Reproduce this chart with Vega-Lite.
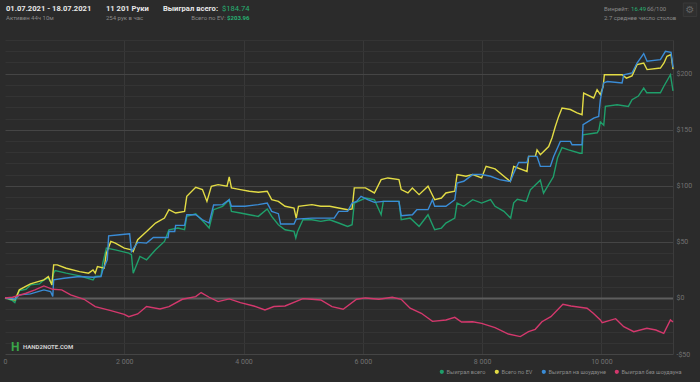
{
  "$schema": "https://vega.github.io/schema/vega-lite/v6.json",
  "width": 668,
  "height": 314,
  "autosize": "none",
  "padding": {"left": 5, "top": 40, "right": 27, "bottom": 28},
  "background": "#2b2b2b",
  "config": {
    "view": {"stroke": null},
    "font": "Roboto",
    "text": {"font": "Roboto"}
  },
  "resolve": {"axis": {"x": "independent", "y": "independent"}},
  "layer": [
    {
      "data": {"values": [
        {"s":"Выиграл всего","h":0,"v":0},{"s":"Выиграл всего","h":127,"v":-2.4},{"s":"Выиграл всего","h":165,"v":-4.2},{"s":"Выиграл всего","h":240,"v":6.6},{"s":"Выиграл всего","h":352,"v":7.7},{"s":"Выиграл всего","h":427,"v":11.6},{"s":"Выиграл всего","h":577,"v":12.5},{"s":"Выиграл всего","h":652,"v":16.1},{"s":"Выиграл всего","h":727,"v":17.6},{"s":"Выиграл всего","h":786,"v":12.5},{"s":"Выиграл всего","h":816,"v":22.1},{"s":"Выиграл всего","h":839,"v":24.4},{"s":"Выиграл всего","h":1026,"v":22.1},{"s":"Выиграл всего","h":1251,"v":19.7},{"s":"Выиграл всего","h":1476,"v":16.1},{"s":"Выиграл всего","h":1513,"v":19.1},{"s":"Выиграл всего","h":1610,"v":19.7},{"s":"Выиграл всего","h":1640,"v":31.0},{"s":"Выиграл всего","h":1700,"v":44.4},{"s":"Выиграл всего","h":1850,"v":42.9},{"s":"Выиграл всего","h":2075,"v":39.9},{"s":"Выиграл всего","h":2120,"v":38.5},{"s":"Выиграл всего","h":2150,"v":22.1},{"s":"Выиграл всего","h":2262,"v":37.0},{"s":"Выиграл всего","h":2374,"v":34.0},{"s":"Выиграл всего","h":2524,"v":42.9},{"s":"Выиграл всего","h":2674,"v":50.4},{"s":"Выиграл всего","h":2749,"v":60.8},{"s":"Выиграл всего","h":2899,"v":62.3},{"s":"Выиграл всего","h":3011,"v":60.8},{"s":"Выиграл всего","h":3048,"v":72.7},{"s":"Выиграл всего","h":3198,"v":75.1},{"s":"Выиграл всего","h":3348,"v":66.8},{"s":"Выиграл всего","h":3423,"v":62.3},{"s":"Выиграл всего","h":3498,"v":78.7},{"s":"Выиграл всего","h":3648,"v":81.7},{"s":"Выиграл всего","h":3760,"v":87.6},{"s":"Выиграл всего","h":3797,"v":77.2},{"s":"Выиграл всего","h":3947,"v":75.7},{"s":"Выиграл всего","h":4097,"v":74.2},{"s":"Выиграл всего","h":4247,"v":72.7},{"s":"Выиграл всего","h":4397,"v":79.3},{"s":"Выиграл всего","h":4472,"v":72.7},{"s":"Выиграл всего","h":4584,"v":65.3},{"s":"Выиграл всего","h":4696,"v":60.8},{"s":"Выиграл всего","h":4846,"v":59.3},{"s":"Выиграл всего","h":4876,"v":53.4},{"s":"Выиграл всего","h":4906,"v":59.3},{"s":"Выиграл всего","h":4996,"v":69.7},{"s":"Выиграл всего","h":5146,"v":69.7},{"s":"Выиграл всего","h":5295,"v":68.3},{"s":"Выиграл всего","h":5445,"v":69.7},{"s":"Выиграл всего","h":5595,"v":66.8},{"s":"Выиграл всего","h":5745,"v":63.8},{"s":"Выиграл всего","h":5820,"v":65.3},{"s":"Выиграл всего","h":5857,"v":84.6},{"s":"Выиграл всего","h":6044,"v":89.1},{"s":"Выиграл всего","h":6194,"v":87.6},{"s":"Выиграл всего","h":6307,"v":74.2},{"s":"Выиграл всего","h":6344,"v":86.1},{"s":"Выиграл всего","h":6494,"v":86.1},{"s":"Выиграл всего","h":6606,"v":86.1},{"s":"Выиграл всего","h":6644,"v":69.7},{"s":"Выиграл всего","h":6793,"v":71.2},{"s":"Выиграл всего","h":6943,"v":63.8},{"s":"Выиграл всего","h":7093,"v":74.2},{"s":"Выиграл всего","h":7205,"v":60.8},{"s":"Выиграл всего","h":7318,"v":62.3},{"s":"Выиграл всего","h":7393,"v":66.8},{"s":"Выиграл всего","h":7542,"v":71.2},{"s":"Выиграл всего","h":7580,"v":84.6},{"s":"Выиграл всего","h":7692,"v":81.7},{"s":"Выиграл всего","h":7842,"v":87.6},{"s":"Выиграл всего","h":7992,"v":84.6},{"s":"Выиграл всего","h":8142,"v":87.6},{"s":"Выиграл всего","h":8217,"v":81.7},{"s":"Выиграл всего","h":8366,"v":77.2},{"s":"Выиграл всего","h":8479,"v":71.2},{"s":"Выиграл всего","h":8530,"v":84.8},{"s":"Выиграл всего","h":8591,"v":88},{"s":"Выиграл всего","h":8741,"v":86},{"s":"Выиграл всего","h":8809,"v":96.4},{"s":"Выиграл всего","h":8976,"v":105},{"s":"Выиграл всего","h":9030,"v":93.5},{"s":"Выиграл всего","h":9195,"v":108},{"s":"Выиграл всего","h":9265,"v":125},{"s":"Выиграл всего","h":9340,"v":134},{"s":"Выиграл всего","h":9450,"v":132},{"s":"Выиграл всего","h":9640,"v":129},{"s":"Выиграл всего","h":9676,"v":129},{"s":"Выиграл всего","h":9690,"v":145.5},{"s":"Выиграл всего","h":9930,"v":147.3},{"s":"Выиграл всего","h":9960,"v":150},{"s":"Выиграл всего","h":9983,"v":157},{"s":"Выиграл всего","h":10040,"v":154},{"s":"Выиграл всего","h":10067,"v":170.8},{"s":"Выиграл всего","h":10263,"v":172.3},{"s":"Выиграл всего","h":10453,"v":170.8},{"s":"Выиграл всего","h":10514,"v":176.8},{"s":"Выиграл всего","h":10620,"v":180},{"s":"Выиграл всего","h":10710,"v":187.2},{"s":"Выиграл всего","h":10760,"v":183},{"s":"Выиграл всего","h":10990,"v":183},{"s":"Выиграл всего","h":11050,"v":189},{"s":"Выиграл всего","h":11158,"v":199},{"s":"Выиграл всего","h":11201,"v":184.7},
        {"s":"Всего по EV","h":0,"v":0},{"s":"Всего по EV","h":165,"v":-1.8},{"s":"Всего по EV","h":240,"v":7.2},{"s":"Всего по EV","h":427,"v":12.5},{"s":"Всего по EV","h":652,"v":16.1},{"s":"Всего по EV","h":727,"v":19.1},{"s":"Всего по EV","h":786,"v":11.6},{"s":"Всего по EV","h":816,"v":29.5},{"s":"Всего по EV","h":876,"v":29.5},{"s":"Всего по EV","h":1026,"v":26.5},{"s":"Всего по EV","h":1251,"v":23.5},{"s":"Всего по EV","h":1401,"v":22.1},{"s":"Всего по EV","h":1476,"v":25.0},{"s":"Всего по EV","h":1513,"v":22.1},{"s":"Всего по EV","h":1550,"v":28.0},{"s":"Всего по EV","h":1663,"v":26.5},{"s":"Всего по EV","h":1700,"v":39.9},{"s":"Всего по EV","h":1775,"v":50.4},{"s":"Всего по EV","h":1850,"v":48.9},{"s":"Всего по EV","h":2000,"v":44.4},{"s":"Всего по EV","h":2120,"v":42.9},{"s":"Всего по EV","h":2150,"v":41.4},{"s":"Всего по EV","h":2225,"v":51.9},{"s":"Всего по EV","h":2374,"v":59.3},{"s":"Всего по EV","h":2524,"v":66.8},{"s":"Всего по EV","h":2674,"v":71.2},{"s":"Всего по EV","h":2749,"v":78.7},{"s":"Всего по EV","h":2861,"v":75.7},{"s":"Всего по EV","h":3011,"v":77.2},{"s":"Всего по EV","h":3048,"v":90.6},{"s":"Всего по EV","h":3198,"v":98.7},{"s":"Всего по EV","h":3311,"v":96.6},{"s":"Всего по EV","h":3386,"v":86.1},{"s":"Всего по EV","h":3460,"v":99.6},{"s":"Всего по EV","h":3573,"v":101.0},{"s":"Всего по EV","h":3723,"v":99.6},{"s":"Всего по EV","h":3760,"v":107.9},{"s":"Всего по EV","h":3797,"v":98.1},{"s":"Всего по EV","h":3947,"v":96.6},{"s":"Всего по EV","h":4097,"v":95.1},{"s":"Всего по EV","h":4247,"v":94.2},{"s":"Всего по EV","h":4397,"v":95.1},{"s":"Всего по EV","h":4472,"v":87.6},{"s":"Всего по EV","h":4584,"v":86.1},{"s":"Всего по EV","h":4696,"v":81.7},{"s":"Всего по EV","h":4846,"v":80.2},{"s":"Всего по EV","h":4883,"v":71.2},{"s":"Всего по EV","h":4921,"v":81.7},{"s":"Всего по EV","h":5146,"v":83.2},{"s":"Всего по EV","h":5295,"v":81.7},{"s":"Всего по EV","h":5445,"v":81.7},{"s":"Всего по EV","h":5595,"v":80.2},{"s":"Всего по EV","h":5745,"v":78.7},{"s":"Всего по EV","h":5820,"v":79.3},{"s":"Всего по EV","h":5857,"v":98.1},{"s":"Всего по EV","h":6044,"v":98.1},{"s":"Всего по EV","h":6194,"v":93.6},{"s":"Всего по EV","h":6307,"v":105.5},{"s":"Всего по EV","h":6419,"v":107.0},{"s":"Всего по EV","h":6606,"v":105.5},{"s":"Всего по EV","h":6644,"v":96.6},{"s":"Всего по EV","h":6756,"v":93.6},{"s":"Всего по EV","h":6831,"v":98.1},{"s":"Всего по EV","h":6943,"v":92.1},{"s":"Всего по EV","h":7093,"v":99.6},{"s":"Всего по EV","h":7205,"v":87.6},{"s":"Всего по EV","h":7318,"v":89.1},{"s":"Всего по EV","h":7393,"v":93.6},{"s":"Всего по EV","h":7542,"v":95.1},{"s":"Всего по EV","h":7580,"v":110.0},{"s":"Всего по EV","h":7730,"v":108.5},{"s":"Всего по EV","h":7842,"v":110.0},{"s":"Всего по EV","h":7992,"v":107.0},{"s":"Всего по EV","h":8067,"v":117.4},{"s":"Всего по EV","h":8217,"v":115.1},{"s":"Всего по EV","h":8366,"v":108.5},{"s":"Всего по EV","h":8473,"v":103.8},{"s":"Всего по EV","h":8530,"v":117.3},{"s":"Всего по EV","h":8753,"v":112.8},{"s":"Всего по EV","h":8780,"v":126.2},{"s":"Всего по EV","h":8893,"v":126.2},{"s":"Всего по EV","h":8921,"v":132},{"s":"Всего по EV","h":8977,"v":127.7},{"s":"Всего по EV","h":9116,"v":135},{"s":"Всего по EV","h":9172,"v":142.6},{"s":"Всего по EV","h":9228,"v":152.9},{"s":"Всего по EV","h":9284,"v":161.9},{"s":"Всего по EV","h":9340,"v":169.4},{"s":"Всего по EV","h":9480,"v":168},{"s":"Всего по EV","h":9592,"v":165},{"s":"Всего по EV","h":9676,"v":163.4},{"s":"Всего по EV","h":9703,"v":182.7},{"s":"Всего по EV","h":9871,"v":178.3},{"s":"Всего по EV","h":9928,"v":185.7},{"s":"Всего по EV","h":9983,"v":181.2},{"s":"Всего по EV","h":10030,"v":188.6},{"s":"Всего по EV","h":10050,"v":199},{"s":"Всего по EV","h":10347,"v":199},{"s":"Всего по EV","h":10420,"v":196},{"s":"Всего по EV","h":10514,"v":198},{"s":"Всего по EV","h":10598,"v":208},{"s":"Всего по EV","h":10710,"v":209.5},{"s":"Всего по EV","h":10766,"v":203.6},{"s":"Всего по EV","h":10990,"v":205},{"s":"Всего по EV","h":11050,"v":209.5},{"s":"Всего по EV","h":11100,"v":215.5},{"s":"Всего по EV","h":11168,"v":217},{"s":"Всего по EV","h":11201,"v":204},
        {"s":"Выиграл на шоудауне","h":0,"v":0},{"s":"Выиграл на шоудауне","h":165,"v":-1.2},{"s":"Выиграл на шоудауне","h":240,"v":2.7},{"s":"Выиграл на шоудауне","h":427,"v":3.6},{"s":"Выиграл на шоудауне","h":652,"v":7.2},{"s":"Выиграл на шоудауне","h":764,"v":5.7},{"s":"Выиграл на шоудауне","h":801,"v":1.2},{"s":"Выиграл на шоудауне","h":816,"v":16.1},{"s":"Выиграл на шоудауне","h":989,"v":17.6},{"s":"Выиграл на шоудауне","h":1251,"v":19.1},{"s":"Выиграл на шоудауне","h":1476,"v":18.5},{"s":"Выиграл на шоудауне","h":1610,"v":19.1},{"s":"Выиграл на шоудауне","h":1640,"v":25.0},{"s":"Выиграл на шоудауне","h":1715,"v":34.0},{"s":"Выиграл на шоудауне","h":1738,"v":55.4},{"s":"Выиграл на шоудауне","h":1925,"v":56.3},{"s":"Выиграл на шоудауне","h":2090,"v":57.2},{"s":"Выиграл на шоудауне","h":2120,"v":41.4},{"s":"Выиграл на шоудауне","h":2225,"v":49.5},{"s":"Выиграл на шоудауне","h":2374,"v":48.9},{"s":"Выиграл на шоудауне","h":2487,"v":53.9},{"s":"Выиграл на шоудауне","h":2734,"v":53.9},{"s":"Выиграл на шоудауне","h":2749,"v":59.3},{"s":"Выиграл на шоудауне","h":2846,"v":59.3},{"s":"Выиграл на шоудауне","h":2861,"v":64.7},{"s":"Выиграл на шоудауне","h":3011,"v":64.7},{"s":"Выиграл на шоудауне","h":3048,"v":74.2},{"s":"Выиграл на шоудауне","h":3198,"v":74.2},{"s":"Выиграл на шоудауне","h":3311,"v":69.7},{"s":"Выиграл на шоудауне","h":3423,"v":66.8},{"s":"Выиграл на шоудауне","h":3498,"v":82.9},{"s":"Выиграл на шоудауне","h":3648,"v":83.2},{"s":"Выиграл на шоудауне","h":3760,"v":87.6},{"s":"Выиграл на шоудауне","h":3797,"v":81.7},{"s":"Выиграл на шоудауне","h":4022,"v":81.7},{"s":"Выиграл на шоудауне","h":4247,"v":83.2},{"s":"Выиграл на шоудауне","h":4397,"v":84.6},{"s":"Выиграл на шоудауне","h":4472,"v":77.2},{"s":"Выиграл на шоудауне","h":4584,"v":75.1},{"s":"Выиграл на шоудауне","h":4621,"v":65.9},{"s":"Выиграл на шоудауне","h":4846,"v":65.9},{"s":"Выиграл на шоудауне","h":4883,"v":70.3},{"s":"Выиграл на шоудауне","h":5146,"v":71.2},{"s":"Выиграл на шоудауне","h":5520,"v":71.2},{"s":"Выиграл на шоудауне","h":5595,"v":77.2},{"s":"Выиграл на шоудауне","h":5745,"v":77.2},{"s":"Выиграл на шоудауне","h":5820,"v":84.6},{"s":"Выиграл на шоудауне","h":5895,"v":86.1},{"s":"Выиграл на шоудауне","h":5970,"v":90.6},{"s":"Выиграл на шоудауне","h":6082,"v":87.6},{"s":"Выиграл на шоудауне","h":6194,"v":85.2},{"s":"Выиграл на шоудауне","h":6344,"v":86.1},{"s":"Выиграл на шоудауне","h":6606,"v":86.1},{"s":"Выиграл на шоудауне","h":6644,"v":73.3},{"s":"Выиграл на шоудауне","h":6831,"v":74.2},{"s":"Выиграл на шоудауне","h":6906,"v":78.7},{"s":"Выиграл на шоудауне","h":7093,"v":78.7},{"s":"Выиграл на шоудауне","h":7168,"v":87.6},{"s":"Выиграл на шоудауне","h":7205,"v":81.7},{"s":"Выиграл на шоудауне","h":7393,"v":81.7},{"s":"Выиграл на шоудауне","h":7542,"v":87.6},{"s":"Выиграл на шоудауне","h":7580,"v":102.5},{"s":"Выиграл на шоудауне","h":7692,"v":104.0},{"s":"Выиграл на шоудауне","h":7842,"v":110.0},{"s":"Выиграл на шоудауне","h":7992,"v":110.0},{"s":"Выиграл на шоудауне","h":8142,"v":108.5},{"s":"Выиграл на шоудауне","h":8291,"v":105.5},{"s":"Выиграл на шоудауне","h":8473,"v":103.8},{"s":"Выиграл на шоудауне","h":8530,"v":111.3},{"s":"Выиграл на шоудауне","h":8613,"v":120.8},{"s":"Выиграл на шоудауне","h":8753,"v":120.8},{"s":"Выиграл на шоудауне","h":8780,"v":126.2},{"s":"Выиграл на шоудауне","h":8921,"v":126.2},{"s":"Выиграл на шоудауне","h":8977,"v":117.3},{"s":"Выиграл на шоудауне","h":9144,"v":117.3},{"s":"Выиграл на шоудауне","h":9200,"v":126.2},{"s":"Выиграл на шоудауне","h":9312,"v":139.6},{"s":"Выиграл на шоудауне","h":9480,"v":139.6},{"s":"Выиграл на шоудауне","h":9508,"v":136.6},{"s":"Выиграл на шоудауне","h":9676,"v":136.6},{"s":"Выиграл на шоудауне","h":9693,"v":154.5},{"s":"Выиграл на шоудауне","h":9871,"v":160.4},{"s":"Выиграл на шоудауне","h":9955,"v":161.9},{"s":"Выиграл на шоудауне","h":9983,"v":176.8},{"s":"Выиграл на шоудауне","h":10039,"v":191.7},{"s":"Выиграл на шоудауне","h":10100,"v":193},{"s":"Выиграл на шоудауне","h":10347,"v":191.7},{"s":"Выиграл на шоудауне","h":10375,"v":199},{"s":"Выиграл на шоудауне","h":10514,"v":200.6},{"s":"Выиграл на шоудауне","h":10598,"v":209.5},{"s":"Выиграл на шоудауне","h":10710,"v":217.9},{"s":"Выиграл на шоудауне","h":10766,"v":211},{"s":"Выиграл на шоудауне","h":10990,"v":212.5},{"s":"Выиграл на шоудауне","h":11074,"v":219.9},{"s":"Выиграл на шоудауне","h":11168,"v":219},{"s":"Выиграл на шоудауне","h":11201,"v":205.6},
        {"s":"Выиграл без шоудауна","h":0,"v":0},{"s":"Выиграл без шоудауна","h":127,"v":0.6},{"s":"Выиграл без шоудауна","h":240,"v":2.4},{"s":"Выиграл без шоудауна","h":352,"v":4.2},{"s":"Выиграл без шоудауна","h":502,"v":7.2},{"s":"Выиграл без шоудауна","h":652,"v":10.7},{"s":"Выиграл без шоудауна","h":801,"v":7.7},{"s":"Выиграл без шоудауна","h":951,"v":7.2},{"s":"Выиграл без шоудауна","h":1101,"v":2.7},{"s":"Выиграл без шоудауна","h":1326,"v":-1.2},{"s":"Выиграл без шоудауна","h":1513,"v":-7.7},{"s":"Выиграл без шоудауна","h":1775,"v":-11.3},{"s":"Выиграл без шоудауна","h":2000,"v":-14.6},{"s":"Выиграл без шоудауна","h":2075,"v":-16.7},{"s":"Выиграл без шоудауна","h":2225,"v":-14.3},{"s":"Выиграл без шоудауна","h":2374,"v":-7.7},{"s":"Выиграл без шоудауна","h":2599,"v":-9.8},{"s":"Выиграл без шоудауна","h":2749,"v":-7.7},{"s":"Выиграл без шоудауна","h":2974,"v":-1.2},{"s":"Выиграл без шоудауна","h":3198,"v":1.2},{"s":"Выиграл без шоудауна","h":3288,"v":4.8},{"s":"Выиграл без шоудауна","h":3423,"v":0.6},{"s":"Выиграл без шоудауна","h":3573,"v":-3.3},{"s":"Выиграл без шоудауна","h":3760,"v":-0.9},{"s":"Выиграл без шоудауна","h":3947,"v":-4.2},{"s":"Выиграл без шоудауна","h":4172,"v":-7.2},{"s":"Выиграл без шоудауна","h":4359,"v":-10.7},{"s":"Выиграл без шоудауна","h":4509,"v":-7.7},{"s":"Выиграл без шоудауна","h":4696,"v":-7.2},{"s":"Выиграл без шоудауна","h":4996,"v":-0.6},{"s":"Выиграл без шоудауна","h":5146,"v":-1.2},{"s":"Выиграл без шоудауна","h":5295,"v":-1.8},{"s":"Выиграл без шоудауна","h":5483,"v":-7.7},{"s":"Выиграл без шоудауна","h":5670,"v":-10.1},{"s":"Выиграл без шоудауна","h":5895,"v":-1.2},{"s":"Выиграл без шоудауна","h":6044,"v":0},{"s":"Выиграл без шоудауна","h":6269,"v":-1.2},{"s":"Выиграл без шоудауна","h":6494,"v":0.6},{"s":"Выиграл без шоудауна","h":6644,"v":-1.2},{"s":"Выиграл без шоудауна","h":6793,"v":-9.2},{"s":"Выиграл без шоудауна","h":6981,"v":-13.7},{"s":"Выиграл без шоудауна","h":7168,"v":-20.9},{"s":"Выиграл без шоудауна","h":7393,"v":-19.7},{"s":"Выиграл без шоудауна","h":7542,"v":-17.3},{"s":"Выиграл без шоудауна","h":7655,"v":-21.5},{"s":"Выиграл без шоудауна","h":7842,"v":-21.2},{"s":"Выиграл без шоудауна","h":7992,"v":-22.7},{"s":"Выиграл без шоудауна","h":8217,"v":-26.5},{"s":"Выиграл без шоудауна","h":8441,"v":-32.2},{"s":"Выиграл без шоудауна","h":8641,"v":-34.5},{"s":"Выиграл без шоудауна","h":8778,"v":-30.1},{"s":"Выиграл без шоудауна","h":8891,"v":-28.0},{"s":"Выиграл без шоудауна","h":9003,"v":-21.2},{"s":"Выиграл без шоудауна","h":9153,"v":-16.7},{"s":"Выиграл без шоудауна","h":9355,"v":-5.7},{"s":"Выиграл без шоудауна","h":9490,"v":-7.2},{"s":"Выиграл без шоудауна","h":9640,"v":-8.3},{"s":"Выиграл без шоудауна","h":9760,"v":-9.2},{"s":"Выиграл без шоудауна","h":9864,"v":-13.7},{"s":"Выиграл без шоудауна","h":9983,"v":-19.6},{"s":"Выиграл без шоудауна","h":10014,"v":-22.1},{"s":"Выиграл без шоудауна","h":10239,"v":-18.5},{"s":"Выиграл без шоудауна","h":10375,"v":-25.6},{"s":"Выиграл без шоудауна","h":10543,"v":-30.1},{"s":"Выиграл без шоудауна","h":10763,"v":-27.1},{"s":"Выиграл без шоудауна","h":10913,"v":-28.6},{"s":"Выиграл без шоудауна","h":11046,"v":-31.6},{"s":"Выиграл без шоудауна","h":11158,"v":-19.6},{"s":"Выиграл без шоудауна","h":11201,"v":-21.5}
      ]},
      "mark": {"type": "line", "strokeWidth": 1.4},
      "encoding": {
        "x": {"field": "h", "type": "quantitative", "scale": {"domain": [0, 11201], "nice": false, "zero": false},
          "axis": {"values": [0, 2000, 4000, 6000, 8000, 10000], "labelExpr": "replace(format(datum.value, ','), ',', ' ')", "labelFontSize": 7, "labelColor": "#727272", "labelPadding": 3, "ticks": false, "domain": false, "labelFlush": false, "title": null, "grid": true,
            "gridColor": {"condition": {"test": "datum.value === 0", "value": "transparent"}, "value": "#383838"}}},
        "y": {"field": "v", "type": "quantitative", "scale": {"domain": [-50, 230], "nice": false, "zero": false},
          "axis": {"orient": "right", "values": [-50,-40,-30,-20,-10,0,10,20,30,40,50,60,70,80,90,100,110,120,130,140,150,160,170,180,190,200,210,220,230],
            "labelExpr": "datum.value % 50 === 0 ? (datum.value < 0 ? '-$' + abs(datum.value) : '$' + datum.value) : ''",
            "labelFontSize": 7, "labelColor": "#727272", "labelPadding": 3, "ticks": false, "domain": true, "domainColor": "#3c3c3c", "labelFlush": false, "labelOverlap": false, "title": null, "grid": true,
            "gridColor": {"condition": [{"test": "datum.value === 0", "value": "#5e5e5e"}, {"test": "datum.value % 50 === 0", "value": "#454545"}], "value": "#343434"},
            "gridWidth": {"condition": {"test": "datum.value === 0", "value": 2}, "value": 1}}},
        "color": {"field": "s", "type": "nominal",
          "scale": {"domain": ["Выиграл всего", "Всего по EV", "Выиграл на шоудауне", "Выиграл без шоудауна"], "range": ["#1f9f6b", "#e3dc45", "#3a8cd6", "#d4386d"]},
          "legend": {"orient": "none", "legendX": 434, "legendY": 329, "direction": "horizontal", "title": null, "symbolType": "circle", "symbolSize": 5, "symbolStrokeWidth": 2, "labelFontSize": 5.6, "labelColor": "#8a8a8a", "columnPadding": 5, "labelOffset": 2, "labelFont": "Roboto"}}
      }
    },
    {
      "data": {"values": [{"t": "01.07.2021 - 18.07.2021"}]},
      "mark": {"type": "text", "align": "left", "baseline": "middle", "fontSize": 7.6, "fontWeight": "bold", "color": "#e8e8e8"},
      "encoding": {"x": {"datum": 17, "type": "quantitative", "axis": null}, "y": {"datum": 257.6, "type": "quantitative", "axis": null}, "text": {"field": "t"}}
    },
    {
      "data": {"values": [{"t": "Активен 44ч 10м"}]},
      "mark": {"type": "text", "align": "left", "baseline": "middle", "fontSize": 6, "color": "#8a8a8a"},
      "encoding": {"x": {"datum": 17, "type": "quantitative", "axis": null}, "y": {"datum": 249.6, "type": "quantitative", "axis": null}, "text": {"field": "t"}}
    },
    {
      "data": {"values": [{"t": "11 201 Руки"}]},
      "mark": {"type": "text", "align": "left", "baseline": "middle", "fontSize": 7.6, "fontWeight": "bold", "color": "#e8e8e8"},
      "encoding": {"x": {"datum": 1693, "type": "quantitative", "axis": null}, "y": {"datum": 257.6, "type": "quantitative", "axis": null}, "text": {"field": "t"}}
    },
    {
      "data": {"values": [{"t": "254 рук в час"}]},
      "mark": {"type": "text", "align": "left", "baseline": "middle", "fontSize": 6, "color": "#8a8a8a"},
      "encoding": {"x": {"datum": 1693, "type": "quantitative", "axis": null}, "y": {"datum": 249.6, "type": "quantitative", "axis": null}, "text": {"field": "t"}}
    },
    {
      "data": {"values": [{"t": "Выиграл всего:"}]},
      "mark": {"type": "text", "align": "left", "baseline": "middle", "fontSize": 7.6, "fontWeight": "bold", "color": "#e8e8e8"},
      "encoding": {"x": {"datum": 2649, "type": "quantitative", "axis": null}, "y": {"datum": 257.6, "type": "quantitative", "axis": null}, "text": {"field": "t"}}
    },
    {
      "data": {"values": [{"t": "$184.74"}]},
      "mark": {"type": "text", "align": "right", "baseline": "middle", "fontSize": 7.6, "color": "#27b173"},
      "encoding": {"x": {"datum": 4100, "type": "quantitative", "axis": null}, "y": {"datum": 257.6, "type": "quantitative", "axis": null}, "text": {"field": "t"}}
    },
    {
      "data": {"values": [{"t": "Всего по EV:"}]},
      "mark": {"type": "text", "align": "right", "baseline": "middle", "fontSize": 6, "color": "#8a8a8a"},
      "encoding": {"x": {"datum": 3700, "type": "quantitative", "axis": null}, "y": {"datum": 249.6, "type": "quantitative", "axis": null}, "text": {"field": "t"}}
    },
    {
      "data": {"values": [{"t": "$203.96"}]},
      "mark": {"type": "text", "align": "right", "baseline": "middle", "fontSize": 6, "fontWeight": "bold", "color": "#27b173"},
      "encoding": {"x": {"datum": 4100, "type": "quantitative", "axis": null}, "y": {"datum": 249.6, "type": "quantitative", "axis": null}, "text": {"field": "t"}}
    },
    {
      "data": {"values": [{"t": "Винрейт:"}]},
      "mark": {"type": "text", "align": "left", "baseline": "middle", "fontSize": 6, "color": "#8a8a8a"},
      "encoding": {"x": {"datum": 10044, "type": "quantitative", "axis": null}, "y": {"datum": 257.6, "type": "quantitative", "axis": null}, "text": {"field": "t"}}
    },
    {
      "data": {"values": [{"t": "16.49"}]},
      "mark": {"type": "text", "align": "left", "baseline": "middle", "fontSize": 6, "color": "#27b173"},
      "encoding": {"x": {"datum": 10497, "type": "quantitative", "axis": null}, "y": {"datum": 257.6, "type": "quantitative", "axis": null}, "text": {"field": "t"}}
    },
    {
      "data": {"values": [{"t": "бб/100"}]},
      "mark": {"type": "text", "align": "left", "baseline": "middle", "fontSize": 6, "color": "#8a8a8a"},
      "encoding": {"x": {"datum": 10765, "type": "quantitative", "axis": null}, "y": {"datum": 257.6, "type": "quantitative", "axis": null}, "text": {"field": "t"}}
    },
    {
      "data": {"values": [{"t": "2.7 среднее число столов"}]},
      "mark": {"type": "text", "align": "left", "baseline": "middle", "fontSize": 6, "color": "#8a8a8a"},
      "encoding": {"x": {"datum": 10044, "type": "quantitative", "axis": null}, "y": {"datum": 249.6, "type": "quantitative", "axis": null}, "text": {"field": "t"}}
    },
    {
      "data": {"values": [{"t": "icon"}]},
      "mark": {"type": "point", "shape": "square", "size": 180, "filled": true, "color": "#313131", "stroke": "#404040", "strokeWidth": 1},
      "encoding": {"x": {"datum": 11486, "type": "quantitative", "axis": null}, "y": {"datum": 257, "type": "quantitative", "axis": null}}
    },
    {
      "data": {"values": [{"t": "⚙"}]},
      "mark": {"type": "text", "align": "center", "baseline": "middle", "fontSize": 10, "font": "DejaVu Sans", "color": "#666666"},
      "encoding": {"x": {"datum": 11486, "type": "quantitative", "axis": null}, "y": {"datum": 257, "type": "quantitative", "axis": null}, "text": {"field": "t"}}
    },
    {
      "data": {"values": [{"t": "H"}]},
      "mark": {"type": "text", "align": "center", "baseline": "middle", "fontSize": 12, "fontWeight": "bold", "color": "#3aa64a"},
      "encoding": {"x": {"datum": 170, "type": "quantitative", "axis": null}, "y": {"datum": -43.8, "type": "quantitative", "axis": null}, "text": {"field": "t"}}
    },
    {
      "data": {"values": [{"t": "HAND2NOTE.COM"}]},
      "mark": {"type": "text", "align": "left", "baseline": "middle", "fontSize": 6, "fontWeight": "bold", "color": "#cfcfcf"},
      "encoding": {"x": {"datum": 302, "type": "quantitative", "axis": null}, "y": {"datum": -43.8, "type": "quantitative", "axis": null}, "text": {"field": "t"}}
    }
  ]
}
